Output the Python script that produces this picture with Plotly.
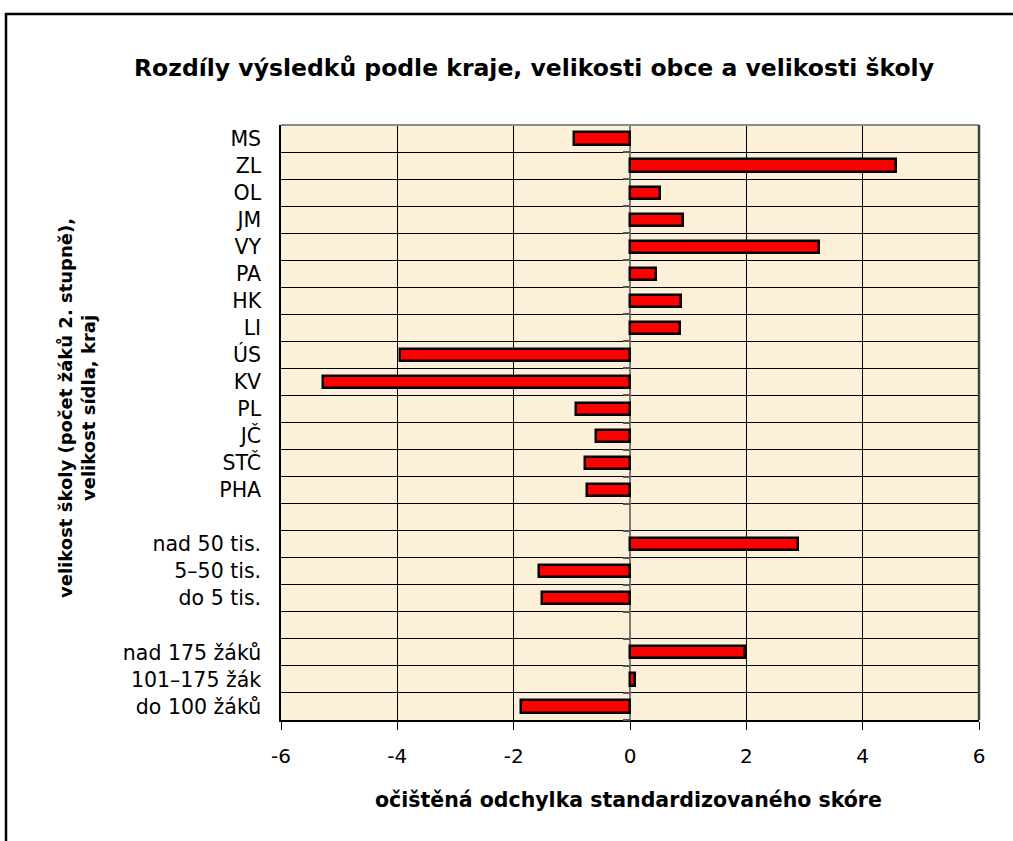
import plotly.graph_objects as go

categories = ["MS", "ZL", "OL", "JM", "VY", "PA", "HK", "LI", "ÚS", "KV", "PL", "JČ", "STČ", "PHA",
              " ", "nad 50 tis.", "5–50 tis.", "do 5 tis.", "  ",
              "nad 175 žáků", "101–175 žák", "do 100 žáků"]
values = [-0.96, 4.57, 0.52, 0.91, 3.25, 0.45, 0.88, 0.86, -3.95, -5.27, -0.92, -0.58, -0.77, -0.74,
          None, 2.88, -1.57, -1.51, None, 1.97, 0.08, -1.87]
x_ticks = [-6, -4, -2, 0, 2, 4, 6]
x_tick_labels = ["-6", "-4", "-2", "0", "2", "4", "6"]

title_text = "Rozdíly výsledků podle kraje, velikosti obce a velikosti školy"
x_title = "očištěná odchylka standardizovaného skóre"
y_title = "velikost školy (počet žáků 2. stupně),<br>velikost sídla, kraj"

pos = list(range(len(categories)))
FONT = "DejaVu Sans"
W, H = 1013, 841
L, R, T, B = 281, 979, 125, 720


def px(xp):
    return (xp - L) / (R - L)


def py(yp):
    return (B - yp) / (B - T)


fig = go.Figure()
fig.add_trace(go.Bar(
    x=values, y=pos, orientation="h", width=0.45,
    marker=dict(color="#FF0000", line=dict(color="#000000", width=2.5)),
    hoverinfo="x",
))
fig.add_trace(go.Scatter(x=[None], y=[None], yaxis="y2", showlegend=False, hoverinfo="skip"))

fig.update_layout(
    width=W, height=H,
    margin=dict(l=L, r=W - R, t=T, b=H - B, pad=0),
    paper_bgcolor="white",
    plot_bgcolor="#FCF0D9",
    showlegend=False,
    font=dict(family=FONT, color="black"),
    bargap=0,
    xaxis=dict(
        range=[-6, 6], tickmode="array", tickvals=x_ticks, ticktext=x_tick_labels,
        ticks="outside", ticklen=8, tickcolor="black", tickwidth=1,
        tickfont=dict(size=20, family=FONT),
        showgrid=True, gridcolor="black", gridwidth=1,
        zeroline=True, zerolinecolor="#7a7a7a", zerolinewidth=2,
        showline=True, linecolor="black", linewidth=1.5,
        ticklabelstandoff=9,
    ),
    yaxis=dict(
        range=[len(categories) - 0.5, -0.5], tickmode="array", tickvals=pos, ticktext=categories,
        ticks="", showgrid=False, zeroline=False,
        showline=True, linecolor="black", linewidth=1.5,
        tickfont=dict(size=20.5, family=FONT),
        ticklabelstandoff=14,
        minor=dict(tick0=0.5, dtick=1, showgrid=True, gridcolor="black", gridwidth=1, ticks=""),
    ),
    yaxis2=dict(
        overlaying="y", anchor="free", position=0.5, side="left",
        range=[len(categories) - 0.5, -0.5], tickmode="linear", tick0=0.5, dtick=1,
        ticks="outside", ticklen=7, tickcolor="#555555", tickwidth=1.5,
        showticklabels=False, showgrid=False, zeroline=False, showline=False,
    ),
)

# plot area top and right borders
fig.add_shape(type="line", xref="paper", yref="paper", x0=0, x1=1, y0=1, y1=1,
              line=dict(color="#8a8a8a", width=2))
fig.add_shape(type="line", xref="paper", yref="paper", x0=1, x1=1, y0=0, y1=1,
              line=dict(color="#404040", width=2.5))
# outer chart frame
fig.add_shape(type="rect", xref="paper", yref="paper",
              x0=px(6), x1=px(1030), y0=py(860), y1=py(14),
              line=dict(color="black", width=2.5), fillcolor="rgba(0,0,0,0)", layer="above")

fig.add_annotation(text="<b>" + title_text + "</b>", xref="paper", yref="paper",
                   x=px(534), y=py(68), showarrow=False, font=dict(size=23.5, family=FONT),
                   xanchor="center", yanchor="middle")
fig.add_annotation(text="<b>" + x_title + "</b>", xref="paper", yref="paper",
                   x=px(628), y=py(800), showarrow=False, font=dict(size=20.5, family=FONT),
                   xanchor="center", yanchor="middle")
fig.add_annotation(text="<b>" + y_title + "</b>", xref="paper", yref="paper",
                   x=px(77), y=py(408), showarrow=False, textangle=-90,
                   font=dict(size=18, family=FONT), xanchor="center", yanchor="middle")

fig.write_html("out.html", config={"displayModeBar": False},
               post_script="document.body.style.margin='0px';document.body.style.overflow='hidden';")
